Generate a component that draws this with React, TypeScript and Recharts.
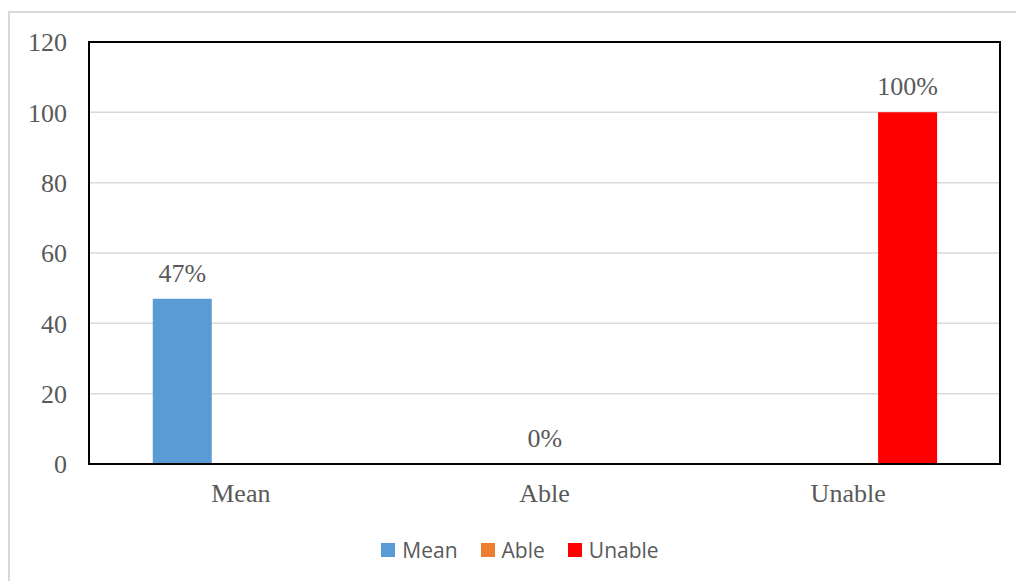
import { BarChart, Bar, XAxis, YAxis, CartesianGrid, Legend, LabelList, ReferenceArea } from "recharts";

// категории и серии — каждая серия имеет значение только в своей категории
const categories = ["Mean", "Able", "Unable"];
const meanValues = [47, null, null];
const ableValues = [null, 0, null];
const unableValues = [null, null, 100];
const yTicks = [0, 20, 40, 60, 80, 100, 120];

const series = [
  { key: "Mean", color: "#5b9bd5" },
  { key: "Able", color: "#ed7d31" },
  { key: "Unable", color: "#ff0000" },
];

const data = categories.map((name, i) => ({
  name,
  Mean: meanValues[i],
  Able: ableValues[i],
  Unable: unableValues[i],
}));

const TEXT = "#595959";
const SERIF = '"Liberation Serif", "Times New Roman", serif';

const fmt = (v: any) => (v == null ? "" : `${v}%`);

function LegendContent() {
  return (
    <div
      style={{
        display: "flex",
        justifyContent: "center",
        alignItems: "center",
        gap: 23,
        height: 30,
        paddingLeft: 24,
        fontFamily: '"Open Sans", sans-serif',
        fontSize: 21,
        color: TEXT,
      }}
    >
      {series.map((s) => (
        <div key={s.key} style={{ display: "flex", alignItems: "center", gap: 7 }}>
          <span style={{ width: 14, height: 14, background: s.color, display: "inline-block" }} />
          <span>{s.key}</span>
        </div>
      ))}
    </div>
  );
}

export default function App() {
  return (
    <div style={{ position: "absolute", left: 0, top: 0, width: 1016, height: 581, background: "#fff", overflow: "hidden" }}>
      <div
        style={{
          position: "absolute",
          left: 8,
          top: 11,
          width: 1100,
          height: 700,
          borderLeft: "2px solid #d9d9d9",
          borderTop: "2px solid #d9d9d9",
        }}
      />
      <BarChart
        width={1016}
        height={581}
        data={data}
        margin={{ top: 42, right: 16, bottom: 47, left: 0 }}
        barCategoryGap="21%"
        barGap={0}
        style={{ position: "absolute", left: 0, top: 0 }}
      >
        <CartesianGrid vertical={false} stroke="#d9d9d9" strokeWidth={1.5} />
        <XAxis
          dataKey="name"
          height={40}
          axisLine={{ stroke: "#000", strokeWidth: 2 }}
          tickLine={false}
          tickSize={0}
          tickMargin={20}
          tick={{ fill: TEXT, fontSize: 26, fontFamily: SERIF }}
        />
        <YAxis
          width={89}
          domain={[0, 120]}
          ticks={yTicks}
          axisLine={false}
          tickLine={false}
          tickSize={0}
          tickMargin={22}
          tick={{ fill: TEXT, fontSize: 26, fontFamily: SERIF }}
        />
        {series.map((s) => (
          <Bar
            key={s.key}
            dataKey={s.key}
            fill={s.color}
            minPointSize={s.key === "Able" ? 0.01 : 0}
            isAnimationActive={false}
          >
            <LabelList
              dataKey={s.key}
              position="top"
              offset={17}
              formatter={fmt}
              style={{ fill: TEXT, fontSize: 26, fontFamily: SERIF }}
            />
          </Bar>
        ))}
        <ReferenceArea y1={0} y2={120} fill="none" stroke="#000" strokeWidth={2} ifOverflow="visible" />
        <Legend
          verticalAlign="bottom"
          content={() => <LegendContent />}
          wrapperStyle={{ top: 535, left: 0, width: 1016, height: 30 }}
        />
      </BarChart>
    </div>
  );
}
